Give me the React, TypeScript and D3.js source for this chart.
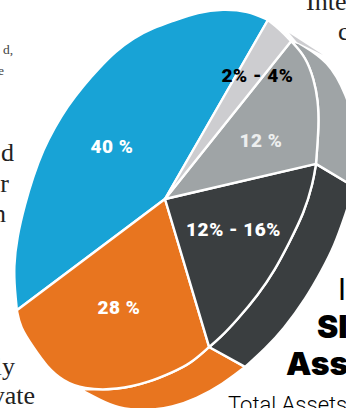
import React from "react";
import * as d3 from "d3";

type P = [number, number];

const WIDTH = 346;
const HEIGHT = 408;
const pieCentre: P = [165, 199];

// Boundaries as [bearing in degrees clockwise from north, distance from centre]
const blueRim: P[] = [[233.1,185.2],[238.5,176],[245.8,166],[255.6,152.8],[268,140.1],[279.5,133.8],[291.9,131.5],[303.2,131.5],[313.2,134.4],[324,139.6],[333.8,147],[341.2,155.3],[348.8,164.1],[356,171.4],[362.6,178.2],[370,189.9],[377,198.7],[383.8,205.5],[389.9,206.5]];
const orangeRim: P[] = [[163.4,154.4],[171.4,166.9],[177.4,173.2],[184.7,183.6],[194.1,197],[203.3,207],[209.3,208.6],[215.1,205.3],[221.7,198.3],[228.6,193.4],[233.1,185.2]];
const darkRim: P[] = [[76.9,155],[83.8,148.9],[95.8,139.7],[109.5,131.6],[122.8,130.9],[135.9,133.7],[149.2,140.8],[158.4,149.5],[163.4,154.4]];
const grayRim: P[] = [[38.6,202],[44.8,200],[51.4,190.7],[57.1,182.2],[64.3,170.9],[76.9,155]];
const lightRim: P[] = [[29.9,206.5],[34,205],[38.6,202]];

const orangeRing: P[] = [[154.5,186],[162.6,193.9],[171.2,202.4],[177.8,208.2],[185.4,212.9],[192.9,214.4],[197.9,211.2],[203.1,208.8]];
const darkRing: P[] = [[86.4,190],[94.4,181.5],[105.9,175.7],[114.3,172.3],[125,172.5],[138,176.3],[146,180],[154.5,186]];
const grayRing: P[] = [[40.7,205.6],[49.9,214],[59.6,209.8],[73.2,204],[86.4,190]];
const sliver: P[] = [[36.8,207.2],[47.7,213.8],[40.1,205]];

const colors = { blue: "#18a3d6", orange: "#e8751f", dark: "#3a3e40", gray: "#9fa4a6", light: "#cdcdd0" };

const sliceLabels = ["40 %", "28 %", "12% - 16%", "12 %", "2% - 4%"];
const labelX = [112, 119, 233.5, 261, 257.5];
const labelY = [146, 307, 229, 140, 75];
const labelFill = ["#ffffff", "#ffffff", "#ffffff", "#eceeee", "#000000"];

const angle = d3.scaleLinear().domain([0, 360]).range([0, 2 * Math.PI]);
const radius = d3.scaleLinear().domain([0, 1]).range([0, 1]);

const rim = d3.lineRadial<P>().angle((d) => angle(d[0])).radius((d) => radius(d[1])).curve(d3.curveBasis);
const flat = d3.lineRadial<P>().angle((d) => angle(d[0])).radius((d) => radius(d[1])).curve(d3.curveLinear);

const wedge = (pts: P[]) => "M0,0L" + (rim(pts) as string).slice(1) + "Z";
const ring = (outer: P[], inner: P[]) =>
  (rim(outer) as string) + "L" + (rim([...inner].reverse()) as string).slice(1) + "Z";

const serif = "'Liberation Serif', serif";
const sans = "Roboto, sans-serif";

export default function App() {
  return (
    <svg width={WIDTH} height={HEIGHT} style={{ position: "absolute", left: 0, top: 0, background: "#fff" }}>
      <g transform={`translate(${pieCentre[0]},${pieCentre[1]})`} stroke="#fff" strokeWidth={2.4} strokeLinejoin="round">
        <path d={ring(orangeRing, orangeRim.slice(0, 6))} fill={colors.orange} />
        <path d={ring(darkRing, darkRim)} fill={colors.dark} />
        <path d={ring(grayRing, grayRim)} fill={colors.gray} />
        <path d={(flat(sliver) as string) + "Z"} fill={colors.light} stroke="none" />
        <path d={wedge(blueRim)} fill={colors.blue} />
        <path d={wedge(orangeRim)} fill={colors.orange} />
        <path d={wedge(darkRim)} fill={colors.dark} />
        <path d={wedge(grayRim)} fill={colors.gray} />
        <path d={wedge(lightRim)} fill={colors.light} />
      </g>

      {sliceLabels.map((t, i) => (
        <text key={t} x={labelX[i]} y={labelY[i]} dy="0.36em" textAnchor="middle" fontFamily={sans} fontWeight={900} fontSize={19} letterSpacing={0.5} fill={labelFill[i]}>
          {t}
        </text>
      ))}

      <g fontFamily={serif} fontSize={13.5} fill="#444" textAnchor="end">
        <text x={13} y={54}>d,</text>
        <text x={4} y={75}>e</text>
      </g>
      <g fontFamily={serif} fontSize={26} fill="#222" textAnchor="end">
        <text x={14} y={161}>d</text>
        <text x={9} y={192}>r</text>
        <text x={6} y={222}>n</text>
        <text x={15} y={375}>ly</text>
        <text x={35} y={404}>Private</text>
      </g>
      <g fontFamily={serif} fontSize={26} fill="#222">
        <text x={306} y={10}>Interest</text>
        <text x={338} y={40}>c</text>
      </g>
      <g fontFamily="Inter, sans-serif" fill="#000">
        <text x={338} y={300} fontSize={30} fontWeight={400}>I</text>
        <text x={317} y={338} fontSize={32} fontWeight={900}>SI</text>
        <text x={286} y={375} fontSize={32} fontWeight={900}>Assets</text>
      </g>
      <text x={228} y={412} fontFamily={sans} fontSize={22} fontWeight={300} fill="#000">Total Assets</text>
    </svg>
  );
}
